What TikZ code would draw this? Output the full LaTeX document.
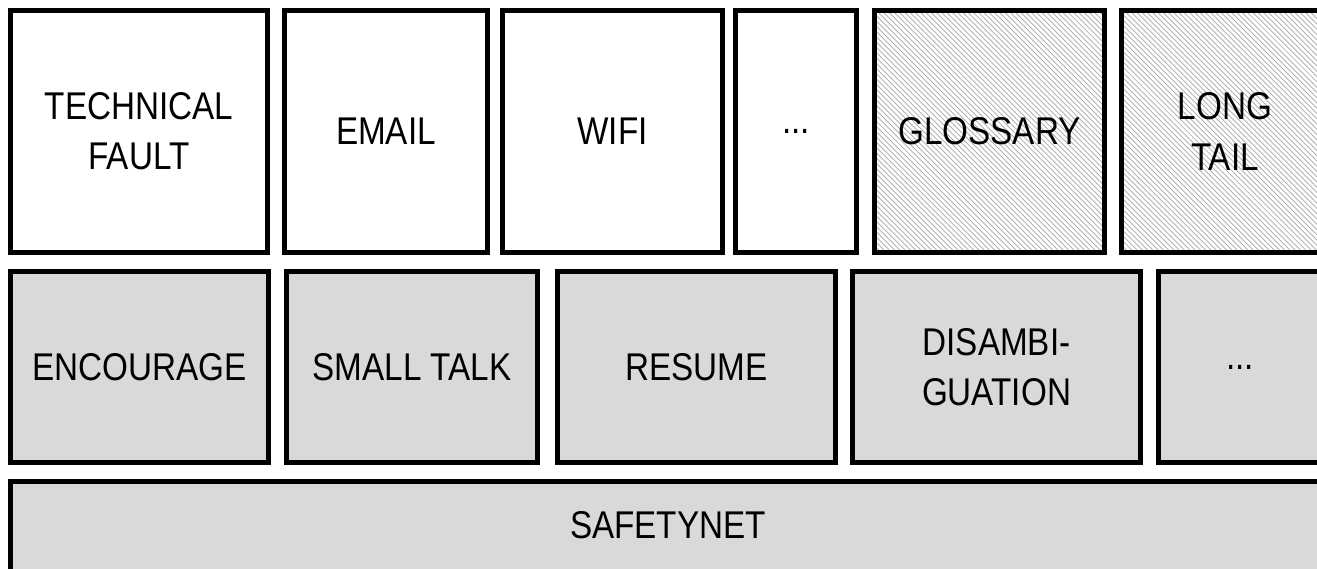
\documentclass[tikz,border=0pt]{standalone}
\usepackage{fontspec}
\setmainfont{Liberation Sans}[FakeStretch=0.86]
\usetikzlibrary{positioning, patterns}

\begin{document}
\begin{tikzpicture}[
  font=\fontsize{22}{28.5}\selectfont,
  blk/.style   ={draw, line width=1mm, align=center, inner sep=0pt},
  topbox/.style={blk, fill=white, minimum height=4.84cm},
  hatch/.style ={blk, pattern=north west lines, pattern color=black!35,
                 minimum height=4.84cm},
  midbox/.style={blk, fill=black!15, minimum height=3.82cm},
]
\useasboundingbox (0,0) rectangle (26.34,-11.36);

% top row: topics
\node[topbox, minimum width=5.14cm, anchor=north west] (fault) at (0.16,-0.16)
  {TECHNICAL\\ FAULT};
\node[topbox, minimum width=4.06cm, right=0.24cm of fault] (email) {EMAIL};
\node[topbox, minimum width=4.40cm, right=0.20cm of email] (wifi) {WIFI};
\node[topbox, minimum width=2.42cm, right=0.16cm of wifi] (tdots) {...};
\node[hatch, minimum width=4.60cm, right=0.26cm of tdots] (gloss) {GLOSSARY};
\node[hatch, minimum width=4.14cm, right=0.24cm of gloss] (tail) {LONG\\ TAIL};

% middle row: dialogue skills
\node[midbox, minimum width=5.16cm, anchor=north west] (enc)
  at ([yshift=-0.28cm]fault.south west) {ENCOURAGE};
\node[midbox, minimum width=5.02cm, right=0.26cm of enc] (talk) {SMALL TALK};
\node[midbox, minimum width=5.56cm, right=0.30cm of talk] (resume) {RESUME};
\node[midbox, minimum width=5.76cm, right=0.24cm of resume] (disamb)
  {DISAMBI-\\ GUATION};
\node[midbox, minimum width=3.26cm, right=0.26cm of disamb] (mdots) {...};

% bottom: safety net
\node[midbox, minimum width=26.54cm, minimum height=2.12cm, anchor=north west]
  (safety) at ([yshift=-0.28cm]enc.south west) {};
\node at (13.36,-10.5) (safelbl) {SAFETYNET};
\end{tikzpicture}
\end{document}
